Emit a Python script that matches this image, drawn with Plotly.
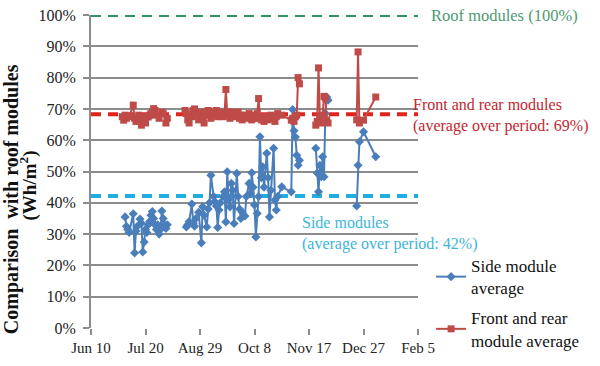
import plotly.graph_objects as go

# ---------------- data ----------------
side_dates = [
    "2012-07-05", "2012-07-06", "2012-07-07", "2012-07-08", "2012-07-11", "2012-07-12", "2012-07-13",
    "2012-07-14", "2012-07-16", "2012-07-17", "2012-07-18", "2012-07-19", "2012-07-20", "2012-07-21",
    "2012-07-22", "2012-07-23", "2012-07-24", "2012-07-25", "2012-07-26", "2012-07-27", "2012-07-28",
    "2012-07-29", "2012-07-30", "2012-07-31", "2012-08-01", "2012-08-02", "2012-08-03", "2012-08-04",
    "2012-08-05", "2012-08-12",
    "2012-08-19", "2012-08-20", "2012-08-21", "2012-08-23", "2012-08-24", "2012-08-25", "2012-08-26",
    "2012-08-28", "2012-08-30", "2012-08-31", "2012-09-01", "2012-09-03", "2012-09-04", "2012-09-05",
    "2012-09-06", "2012-09-08", "2012-09-09", "2012-09-10", "2012-09-11", "2012-09-12", "2012-09-13",
    "2012-09-15", "2012-09-16", "2012-09-17", "2012-09-18", "2012-09-19", "2012-09-20", "2012-09-21",
    "2012-09-22", "2012-09-23", "2012-09-25", "2012-09-26", "2012-09-27", "2012-09-28", "2012-09-29",
    "2012-10-01", "2012-10-02", "2012-10-04", "2012-10-05", "2012-10-06", "2012-10-07", "2012-10-08",
    "2012-10-09", "2012-10-10", "2012-10-11", "2012-10-12", "2012-10-13", "2012-10-14", "2012-10-15",
    "2012-10-17", "2012-10-18", "2012-10-19", "2012-10-20", "2012-10-22", "2012-10-23", "2012-10-24",
    "2012-10-25", "2012-10-28", "2012-11-04", "2012-11-05", "2012-11-06", "2012-11-07", "2012-11-08",
    "2012-11-09", "2012-11-10", "2012-11-16",
    "2012-11-22", "2012-11-23", "2012-11-24", "2012-11-25", "2012-11-26", "2012-11-27", "2012-11-28",
    "2012-11-29", "2012-11-30", "2012-12-01", "2012-12-10",
    "2012-12-22", "2012-12-23", "2012-12-24", "2012-12-27", "2013-01-05",
]
side_values = [
    35.5, 32.5, 31.5, 30.5, 36.5, 24.0, 31.0,
    32.5, 34.8, 33.5, 24.3, 27.5, 31.5, 30.5,
    33.0, 34.0, 36.0, 37.2, 35.0, 33.0, 31.5,
    33.0, 30.0, 31.5, 37.4, 35.0, 33.0, 31.8,
    33.0, None,
    32.3, 33.0, 34.0, 39.6, 33.5, 32.5, 35.0,
    37.0, 27.2, 38.7, 36.0, 32.3, 38.0, 40.0,
    48.8, 42.0, 40.3, 39.0, 32.1, 37.7, 40.0,
    42.0, 43.5, 33.9, 49.9, 41.0, 38.7, 46.2,
    44.0, 33.4, 49.4, 42.0, 38.0, 35.0, 37.0,
    35.8, 42.0, 46.2, 43.0, 49.6, 45.0, 39.3,
    29.1, 36.6, 42.0, 61.1, 48.0, 51.5, 45.0,
    55.8, 48.0, 35.5, 44.0, 57.4, 40.9, 37.7,
    42.0, 45.1, 43.5, 69.8, 63.0, 61.0, 55.2,
    52.0, 53.6, None,
    57.4, 49.5, 43.5, 52.0, 48.3, 54.7, 48.3,
    68.5, 73.8, 72.8, None,
    39.0, 52.0, 59.5, 62.7, 54.7,
]

front_dates = [
    "2012-07-03", "2012-07-04", "2012-07-05", "2012-07-06", "2012-07-08", "2012-07-11", "2012-07-12",
    "2012-07-13", "2012-07-15", "2012-07-16", "2012-07-17", "2012-07-18", "2012-07-19", "2012-07-20",
    "2012-07-22", "2012-07-23", "2012-07-24", "2012-07-25", "2012-07-26", "2012-07-27", "2012-07-28",
    "2012-07-30", "2012-08-01", "2012-08-02", "2012-08-04", "2012-08-05", "2012-08-12",
    "2012-08-18", "2012-08-19", "2012-08-20", "2012-08-21", "2012-08-23", "2012-08-24", "2012-08-25",
    "2012-08-26", "2012-08-28", "2012-08-30", "2012-08-31", "2012-09-01", "2012-09-03", "2012-09-04",
    "2012-09-05", "2012-09-06", "2012-09-08", "2012-09-09", "2012-09-10", "2012-09-11", "2012-09-12",
    "2012-09-13", "2012-09-15", "2012-09-16", "2012-09-17", "2012-09-18", "2012-09-19", "2012-09-20",
    "2012-09-21", "2012-09-22", "2012-09-23", "2012-09-25", "2012-09-26", "2012-09-27", "2012-09-28",
    "2012-09-29", "2012-10-01", "2012-10-02", "2012-10-04", "2012-10-05", "2012-10-06", "2012-10-07",
    "2012-10-08", "2012-10-09", "2012-10-10", "2012-10-11", "2012-10-12", "2012-10-13", "2012-10-14",
    "2012-10-15", "2012-10-17", "2012-10-18", "2012-10-19", "2012-10-20", "2012-10-22", "2012-10-23",
    "2012-10-24", "2012-10-25", "2012-10-28", "2012-11-04", "2012-11-05", "2012-11-06", "2012-11-07",
    "2012-11-08", "2012-11-09", "2012-11-10", "2012-11-16",
    "2012-11-22", "2012-11-23", "2012-11-24", "2012-11-25", "2012-11-26", "2012-11-27", "2012-11-28",
    "2012-11-29", "2012-11-30", "2012-12-01", "2012-12-10",
    "2012-12-22", "2012-12-23", "2012-12-24", "2012-12-27", "2013-01-05",
]
front_values = [
    67.5, 66.4, 68.0, 67.0, 67.5, 71.2, 67.0,
    66.0, 68.0, 66.5, 64.8, 66.0, 67.5, 65.5,
    67.4, 68.0, 68.5, 69.0, 70.1, 69.5, 68.0,
    67.0, 69.0, 68.5, 65.5, 67.0, None,
    69.5, 68.5, 66.5, 65.5, 67.5, 69.5, 70.0,
    68.0, 66.5, 69.0, 67.5, 65.5, 68.0, 69.5,
    68.5, 67.0, 69.0, 68.0, 69.5, 67.5, 68.5,
    69.0, 67.5, 68.5, 76.2, 68.0, 69.0, 67.0,
    68.5, 69.0, 67.5, 68.5, 69.0, 67.0, 68.0,
    66.5, 68.0, 67.0, 68.5, 67.5, 66.5, 67.0,
    68.0, 67.0, 68.5, 73.3, 67.5, 66.5, 67.0,
    66.0, 67.5, 66.5, 67.0, 68.0, 67.5, 66.0,
    67.5, 68.5, 68.0, 66.4, 67.0, 66.0, 67.5,
    68.0, 80.0, 78.0, None,
    64.8, 66.0, 83.1, 67.0, 65.5, 68.0, 74.0,
    73.5, 66.5, 65.5, None,
    66.5, 88.2, 65.5, 66.4, 73.8,
]

roof_level = 100
front_average = 68.3
side_average = 42.2

x_start, x_end = "2012-06-10", "2013-02-05"
tick_dates = ["2012-06-10", "2012-07-20", "2012-08-29", "2012-10-08",
              "2012-11-17", "2012-12-27", "2013-02-05"]
tick_labels = ["Jun 10", "Jul 20", "Aug 29", "Oct 8", "Nov 17", "Dec 27", "Feb 5"]
y_ticks = list(range(0, 101, 10))
y_tick_labels = [f"{v}%" for v in y_ticks]

# ---------------- figure ----------------
SERIF = "Liberation Serif"
BLUE = "#4A7EBB"
RED = "#BE4B48"
GRID = "#8C8C8C"

fig = go.Figure()

for level, color in [(roof_level, "#2F9663"), (front_average, "#E3231E"), (side_average, "#1FAEE0")]:
    fig.add_trace(go.Scatter(
        x=[x_start, "2013-02-08"], y=[level, level], mode="lines",
        line=dict(color=color, width=4, dash="10px,7px"),
        showlegend=False, hoverinfo="skip", cliponaxis=False,
    ))

fig.add_trace(go.Scatter(
    x=side_dates, y=side_values, mode="lines+markers", name="Side module<br>average",
    legendgroup="side",
    line=dict(color=BLUE, width=2), marker=dict(symbol="diamond", size=7, color=BLUE),
    connectgaps=False,
))
fig.add_trace(go.Scatter(
    x=front_dates, y=front_values, mode="lines+markers", name="Front and rear<br>module average",
    legendgroup="front",
    line=dict(color=RED, width=2), marker=dict(symbol="square", size=7, color=RED),
    connectgaps=False,
))

fig.update_layout(
    width=600, height=366,
    margin=dict(l=91, r=182, t=15, b=38, autoexpand=False),
    paper_bgcolor="white", plot_bgcolor="white",
    font=dict(family=SERIF, size=14, color="#222222"),
    showlegend=True,
    legend=dict(
        x=1.04, y=-0.096, xanchor="left", yanchor="bottom",
        font=dict(family=SERIF, size=17, color="#111111"),
        bgcolor="rgba(0,0,0,0)", traceorder="grouped", tracegroupgap=5, itemwidth=30,
    ),
    xaxis=dict(
        type="date", range=[x_start, x_end], automargin=False,
        tickmode="array", tickvals=tick_dates, ticktext=tick_labels,
        showgrid=False, zeroline=False,
        showline=False, ticks="outside", ticklen=6, tickwidth=2, tickcolor=GRID,
        tickfont=dict(family=SERIF, size=15, color="#222222"),
    ),
    yaxis=dict(
        range=[0, 100], automargin=False,
        tickmode="array", tickvals=y_ticks, ticktext=y_tick_labels,
        showgrid=True, gridcolor=GRID, gridwidth=2,
        zeroline=False, showline=True, linecolor=GRID, linewidth=2,
        ticks="outside", ticklen=6, tickwidth=2, tickcolor=GRID,
        ticklabelstandoff=4,
        tickfont=dict(family=SERIF, size=16, color="#222222"),
    ),
)

annotations = [
    dict(text="<b>Comparison  with roof modules</b>",
         xref="paper", yref="paper", x=-0.243, y=0.41, textangle=-90,
         showarrow=False, font=dict(family=SERIF, size=20, color="#111111"),
         xanchor="center", yanchor="middle"),
    dict(text="<b>(Wh/m<sup>2</sup>)</b>",
         xref="paper", yref="paper", x=-0.19, y=0.455, textangle=-90,
         showarrow=False, font=dict(family=SERIF, size=19, color="#111111"),
         xanchor="center", yanchor="middle"),
    dict(text="Roof modules (100%)", xref="paper", yref="y", x=1.035, y=roof_level,
         xanchor="left", yanchor="middle", showarrow=False,
         font=dict(family=SERIF, size=16.5, color="#4E9A73")),
    dict(text="Front and rear modules<br>(average over period: 69%)",
         xref="paper", yref="paper", x=0.98, y=0.68, xanchor="left", yanchor="middle",
         align="left", showarrow=False, font=dict(family=SERIF, size=16, color="#C4262E")),
    dict(text="Side modules<br>(average over period: 42%)",
         xref="paper", yref="paper", x=0.64, y=0.303, xanchor="left", yanchor="middle",
         align="left", showarrow=False, font=dict(family=SERIF, size=16, color="#3DB5DA")),
]
fig.update_layout(annotations=annotations)

fig.write_html("out.html", config={"displayModeBar": False},
               post_script="document.body.style.margin='0';")
